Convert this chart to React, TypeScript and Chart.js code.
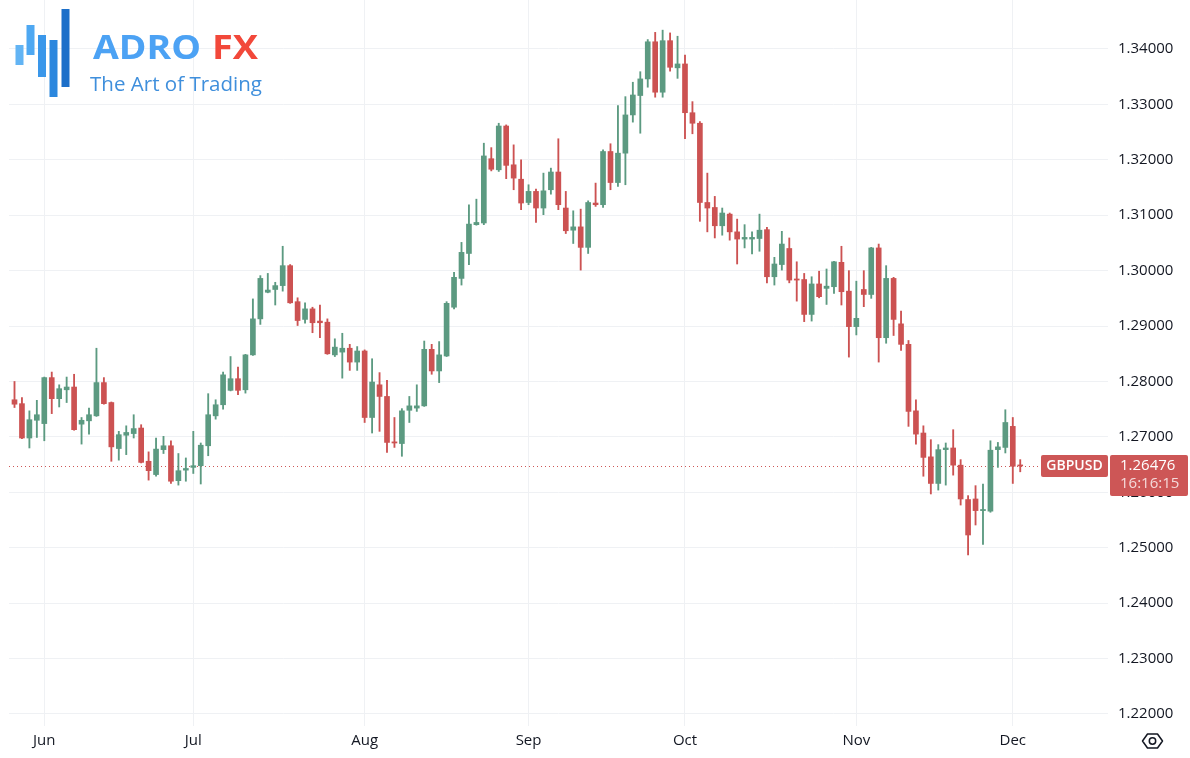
import React, { useEffect, useRef } from "react";
import { Chart, registerables } from "chart.js";

Chart.register(...registerables);

// ---- data ----
const startDate = "2024-05-28"; // first trading day shown (weekdays only)
const monthNames = ["Jan", "Feb", "Mar", "Apr", "May", "Jun", "Jul", "Aug", "Sep", "Oct", "Nov", "Dec"];

const opens = [
  1.2767, 1.2760, 1.2698, 1.2730, 1.2724, 1.2807, 1.2769, 1.2785, 1.2790, 1.2723,
  1.2729, 1.2738, 1.2798, 1.2762, 1.2679, 1.2703, 1.2706, 1.2716, 1.2656, 1.2632,
  1.2677, 1.2684, 1.2621, 1.2640, 1.2645, 1.2648, 1.2684, 1.2738, 1.2758, 1.2784,
  1.2805, 1.2785, 1.2848, 1.2913, 1.2961, 1.2966, 1.2973, 1.3009, 1.2944, 1.2912,
  1.2931, 1.2909, 1.2907, 1.2848, 1.2853, 1.2860, 1.2835, 1.2855, 1.2735, 1.2794,
  1.2773, 1.2691, 1.2688, 1.2748, 1.2752, 1.2756, 1.2858, 1.2819, 1.2846, 1.2934,
  1.2986, 1.3031, 1.3083, 1.3086, 1.3202, 1.3182, 1.3261, 1.3191, 1.3165, 1.3123,
  1.3143, 1.3113, 1.3146, 1.3178, 1.3113, 1.3073, 1.3079, 1.3042, 1.3122, 1.3119,
  1.3215, 1.3159, 1.3212, 1.3281, 1.3316, 1.3346, 1.3413, 1.3322, 1.3415, 1.3366,
  1.3373, 1.3285, 1.3266, 1.3123, 1.3114, 1.3081, 1.3102, 1.3070, 1.3057, 1.3057,
  1.3058, 1.3074, 1.2989, 1.3011, 1.3040, 1.2985, 1.2984, 1.2921, 1.2976, 1.2968,
  1.2971, 1.3015, 1.2963, 1.2899, 1.2966, 1.2957, 1.3041, 1.2879, 1.2986, 1.2904,
  1.2867, 1.2747, 1.2707, 1.2664, 1.2616, 1.2677, 1.2680, 1.2649, 1.2587, 1.2588,
  1.2567, 1.2566, 1.2677, 1.2681, 1.2719, 1.2648,
];
const highs = [
  1.2800, 1.2771, 1.2747, 1.2766, 1.2808, 1.2817, 1.2794, 1.2808, 1.2813, 1.2735,
  1.2752, 1.2860, 1.2807, 1.2763, 1.2710, 1.2720, 1.2740, 1.2722, 1.2673, 1.2698,
  1.2701, 1.2693, 1.2670, 1.2662, 1.2710, 1.2689, 1.2778, 1.2767, 1.2817, 1.2845,
  1.2826, 1.2849, 1.2949, 1.2991, 1.2995, 1.2979, 1.3044, 1.3011, 1.2951, 1.2942,
  1.2934, 1.2938, 1.2913, 1.2877, 1.2887, 1.2867, 1.2863, 1.2857, 1.2841, 1.2816,
  1.2802, 1.2735, 1.2751, 1.2773, 1.2794, 1.2873, 1.2867, 1.2872, 1.2944, 1.2997,
  1.3051, 1.3119, 1.3129, 1.3230, 1.3222, 1.3266, 1.3263, 1.3227, 1.3200, 1.3155,
  1.3147, 1.3176, 1.3185, 1.3238, 1.3143, 1.3108, 1.3111, 1.3126, 1.3158, 1.3218,
  1.3229, 1.3298, 1.3314, 1.3340, 1.3359, 1.3417, 1.3430, 1.3434, 1.3429, 1.3423,
  1.3389, 1.3305, 1.3269, 1.3176, 1.3134, 1.3113, 1.3104, 1.3093, 1.3083, 1.3070,
  1.3102, 1.3078, 1.3024, 1.3071, 1.3059, 1.3016, 1.2995, 1.2989, 1.2999, 1.3003,
  1.3017, 1.3044, 1.3000, 1.2981, 1.3000, 1.3042, 1.3048, 1.3009, 1.2988, 1.2927,
  1.2874, 1.2767, 1.2720, 1.2695, 1.2686, 1.2689, 1.2713, 1.2659, 1.2594, 1.2612,
  1.2615, 1.2693, 1.2690, 1.2749, 1.2735, 1.2659,
];
const lows = [
  1.2753, 1.2697, 1.2680, 1.2699, 1.2693, 1.2742, 1.2754, 1.2762, 1.2712, 1.2687,
  1.2705, 1.2737, 1.2759, 1.2656, 1.2658, 1.2668, 1.2698, 1.2653, 1.2622, 1.2629,
  1.2670, 1.2616, 1.2613, 1.2620, 1.2634, 1.2615, 1.2666, 1.2732, 1.2750, 1.2783,
  1.2776, 1.2779, 1.2847, 1.2903, 1.2960, 1.2938, 1.2963, 1.2941, 1.2901, 1.2905,
  1.2888, 1.2879, 1.2849, 1.2845, 1.2806, 1.2820, 1.2820, 1.2726, 1.2707, 1.2710,
  1.2672, 1.2681, 1.2665, 1.2726, 1.2746, 1.2755, 1.2813, 1.2798, 1.2845, 1.2931,
  1.2974, 1.3011, 1.3082, 1.3083, 1.3180, 1.3179, 1.3166, 1.3146, 1.3110, 1.3119,
  1.3087, 1.3101, 1.3138, 1.3110, 1.3067, 1.3049, 1.3001, 1.3031, 1.3116, 1.3114,
  1.3146, 1.3152, 1.3155, 1.3268, 1.3248, 1.3331, 1.3313, 1.3313, 1.3360, 1.3347,
  1.3238, 1.3247, 1.3089, 1.3070, 1.3059, 1.3064, 1.3055, 1.3012, 1.3041, 1.3030,
  1.3035, 1.2978, 1.2974, 1.3001, 1.2978, 1.2945, 1.2908, 1.2909, 1.2951, 1.2939,
  1.2959, 1.2938, 1.2844, 1.2884, 1.2935, 1.2950, 1.2835, 1.2869, 1.2883, 1.2856,
  1.2719, 1.2687, 1.2629, 1.2597, 1.2604, 1.2613, 1.2631, 1.2577, 1.2487, 1.2541,
  1.2506, 1.2564, 1.2645, 1.2671, 1.2616, 1.2637,
];
const closes = [
  1.2759, 1.2698, 1.2731, 1.2740, 1.2807, 1.2769, 1.2787, 1.2790, 1.2713, 1.2730,
  1.2740, 1.2798, 1.2760, 1.2682, 1.2704, 1.2708, 1.2715, 1.2654, 1.2639, 1.2678,
  1.2684, 1.2620, 1.2639, 1.2643, 1.2648, 1.2685, 1.2740, 1.2758, 1.2812, 1.2805,
  1.2784, 1.2848, 1.2913, 1.2986, 1.2965, 1.2973, 1.3009, 1.2942, 1.2910, 1.2931,
  1.2906, 1.2906, 1.2850, 1.2862, 1.2860, 1.2835, 1.2855, 1.2735, 1.2799, 1.2773,
  1.2690, 1.2689, 1.2747, 1.2756, 1.2756, 1.2858, 1.2819, 1.2848, 1.2941, 1.2988,
  1.3033, 1.3084, 1.3087, 1.3207, 1.3183, 1.3261, 1.3190, 1.3167, 1.3122, 1.3143,
  1.3113, 1.3144, 1.3178, 1.3119, 1.3072, 1.3079, 1.3042, 1.3123, 1.3119, 1.3215,
  1.3159, 1.3212, 1.3281, 1.3317, 1.3346, 1.3413, 1.3322, 1.3415, 1.3367, 1.3373,
  1.3285, 1.3266, 1.3123, 1.3113, 1.3081, 1.3104, 1.3070, 1.3057, 1.3060, 1.3060,
  1.3073, 1.2989, 1.3012, 1.3048, 1.2983, 1.2983, 1.2921, 1.2976, 1.2953, 1.2972,
  1.3016, 1.2962, 1.2899, 1.2914, 1.2957, 1.3041, 1.2879, 1.2986, 1.2912, 1.2867,
  1.2746, 1.2705, 1.2663, 1.2616, 1.2677, 1.2680, 1.2649, 1.2588, 1.2523, 1.2567,
  1.2569, 1.2676, 1.2682, 1.2726, 1.2647, 1.26476,
];
const yTickValues = [1.22, 1.23, 1.24, 1.25, 1.26, 1.27, 1.28, 1.29, 1.30, 1.31, 1.32, 1.33, 1.34];
const lastPrice = 1.26476;
const symbolName = "GBPUSD";
const clockText = "16:16:15";

// ---- style ----
const UP = "#5c9a81";
const DOWN = "#cc5252";
const LABEL_RED = "#cd5656";
const GRID = "#eff1f4";
const TEXT = "#131722";
const FONT = "'Open Sans', 'DejaVu Sans', sans-serif";

function tradingDays(start: string, count: number): Date[] {
  const out: Date[] = [];
  const d = new Date(start + "T12:00:00Z");
  while (out.length < count) {
    const wd = d.getUTCDay();
    if (wd !== 0 && wd !== 6) out.push(new Date(d.getTime()));
    d.setUTCDate(d.getUTCDate() + 1);
  }
  return out;
}

export default function App() {
  const canvasRef = useRef<HTMLCanvasElement>(null);

  useEffect(() => {
    const n = opens.length;
    const days = tradingDays(startDate, n);
    const monthTicks: { idx: number; label: string }[] = [];
    for (let i = 1; i < n; i++) {
      if (days[i].getUTCMonth() !== days[i - 1].getUTCMonth()) {
        monthTicks.push({ idx: i, label: monthNames[days[i].getUTCMonth()] });
      }
    }
    const colors = opens.map((o, i) => (closes[i] >= o ? UP : DOWN));

    const pricePlugin = {
      id: "priceLabels",
      beforeDatasetsDraw(chart: any) {
        const { ctx, chartArea, scales } = chart;
        const y = Math.round(scales.y.getPixelForValue(lastPrice)) + 0.5;
        ctx.save();
        ctx.strokeStyle = LABEL_RED;
        ctx.lineWidth = 1;
        ctx.setLineDash([1, 3]);
        ctx.beginPath();
        ctx.moveTo(chartArea.left, y);
        ctx.lineTo(chartArea.right - 68, y);
        ctx.stroke();
        ctx.restore();
      },
      afterDraw(chart: any) {
        const { ctx, chartArea, scales } = chart;
        const y = scales.y.getPixelForValue(lastPrice);
        ctx.save();
        const sx = chartArea.right - 67;
        ctx.fillStyle = LABEL_RED;
        ctx.beginPath();
        (ctx as any).roundRect(sx, y - 11, 67, 22, 2);
        ctx.fill();
        ctx.fillStyle = "#ffffff";
        ctx.font = `600 14px ${FONT}`;
        ctx.textAlign = "center";
        ctx.textBaseline = "middle";
        ctx.fillText(symbolName, sx + 33.5, y + 0.5);
        const px = chartArea.right + 2;
        ctx.fillStyle = LABEL_RED;
        ctx.beginPath();
        (ctx as any).roundRect(px, y - 11, 78, 41, 2);
        ctx.fill();
        ctx.textAlign = "left";
        ctx.font = `15px ${FONT}`;
        ctx.fillStyle = "#ffffff";
        ctx.fillText(lastPrice.toFixed(5), px + 10, y);
        ctx.fillStyle = "rgba(255,255,255,0.78)";
        ctx.fillText(clockText, px + 10, y + 18);
        ctx.restore();
      },
    };

    const chart = new Chart(canvasRef.current!, {
      type: "bar",
      data: {
        datasets: [
          {
            label: "wick",
            data: opens.map((_, i) => ({ x: i, y: [lows[i], highs[i]] })) as any,
            backgroundColor: colors,
            barThickness: 1.2,
            grouped: false,
            order: 2,
          } as any,
          {
            label: "body",
            data: opens.map((o, i) => ({ x: i, y: [o, closes[i]] })) as any,
            backgroundColor: colors,
            barThickness: 5,
            minBarLength: 1,
            grouped: false,
            order: 1,
          } as any,
        ],
      },
      options: {
        animation: false,
        responsive: false,
        maintainAspectRatio: false,
        layout: { padding: { left: 9, right: 0, top: 0, bottom: 0 } },
        plugins: { legend: { display: false }, tooltip: { enabled: false } },
        scales: {
          x: {
            type: "linear",
            min: -0.738,
            max: 146.78,
            offset: false,
            grid: { offset: false, color: GRID, drawTicks: false },
            border: { display: false },
            afterBuildTicks: (s: any) => {
              s.ticks = monthTicks.map((m) => ({ value: m.idx }));
            },
            afterFit: (s: any) => {
              s.height = 32;
              s.paddingLeft = 0;
              s.paddingRight = 0;
            },
            ticks: {
              autoSkip: false,
              maxRotation: 0,
              padding: 6,
              color: TEXT,
              font: { family: FONT, size: 15 },
              callback: (v: any) => {
                const m = monthTicks.find((t) => t.idx === Number(v));
                return m ? m.label : "";
              },
            },
          },
          y: {
            position: "right",
            min: 1.21783,
            max: 1.34884,
            grid: { color: GRID, drawTicks: false },
            border: { display: false },
            afterBuildTicks: (s: any) => {
              s.ticks = yTickValues.map((v) => ({ value: v }));
            },
            afterFit: (s: any) => {
              s.width = 82;
              s.paddingTop = 0;
              s.paddingBottom = 0;
            },
            ticks: {
              padding: 10,
              color: TEXT,
              font: { family: FONT, size: 15 },
              callback: (v: any) => Number(v).toFixed(5),
            },
          },
        },
      } as any,
      plugins: [pricePlugin],
    });
    return () => chart.destroy();
  }, []);

  return (
    <div style={{ position: "fixed", left: 0, top: 0, width: 1190, height: 758, background: "#ffffff", overflow: "hidden" }}>
      <canvas ref={canvasRef} width={1190} height={758} style={{ position: "absolute", left: 0, top: 0, width: 1190, height: 758 }} />
      <svg width={1190} height={758} style={{ position: "absolute", left: 0, top: 0, pointerEvents: "none" }}>
        <rect x={15.5} y={45} width={8} height={20} fill="#62b4f4" />
        <rect x={26.5} y={25} width={8} height={30} fill="#4ea8f2" />
        <rect x={38} y={35} width={8} height={42} fill="#3a97ea" />
        <rect x={49.5} y={40} width={8} height={57} fill="#2b87de" />
        <rect x={61.5} y={9} width={8} height={78} fill="#1c6fc9" />
        <text x={93} y={59} fontFamily="'Open Sans', Lato, sans-serif" fontWeight={700} fontSize={33.6} fill="#4ca2f4" textLength={108} lengthAdjust="spacingAndGlyphs">ADRO</text>
        <text x={212} y={59} fontFamily="'Open Sans', Lato, sans-serif" fontWeight={700} fontSize={33.6} fill="#f2483a" textLength={46} lengthAdjust="spacingAndGlyphs">FX</text>
        <text x={90} y={91} fontFamily="'Open Sans', sans-serif" fontWeight={400} fontSize={20} fill="#3f8fdc" textLength={172} lengthAdjust="spacingAndGlyphs">The Art of Trading</text>
        <polygon points="1142.5,741 1147.5,734 1157.5,734 1162.5,741 1157.5,748 1147.5,748" fill="none" stroke={TEXT} strokeWidth={1.5} strokeLinejoin="round" />
        <circle cx={1152.5} cy={741} r={3.2} fill="none" stroke={TEXT} strokeWidth={1.5} />
      </svg>
    </div>
  );
}
